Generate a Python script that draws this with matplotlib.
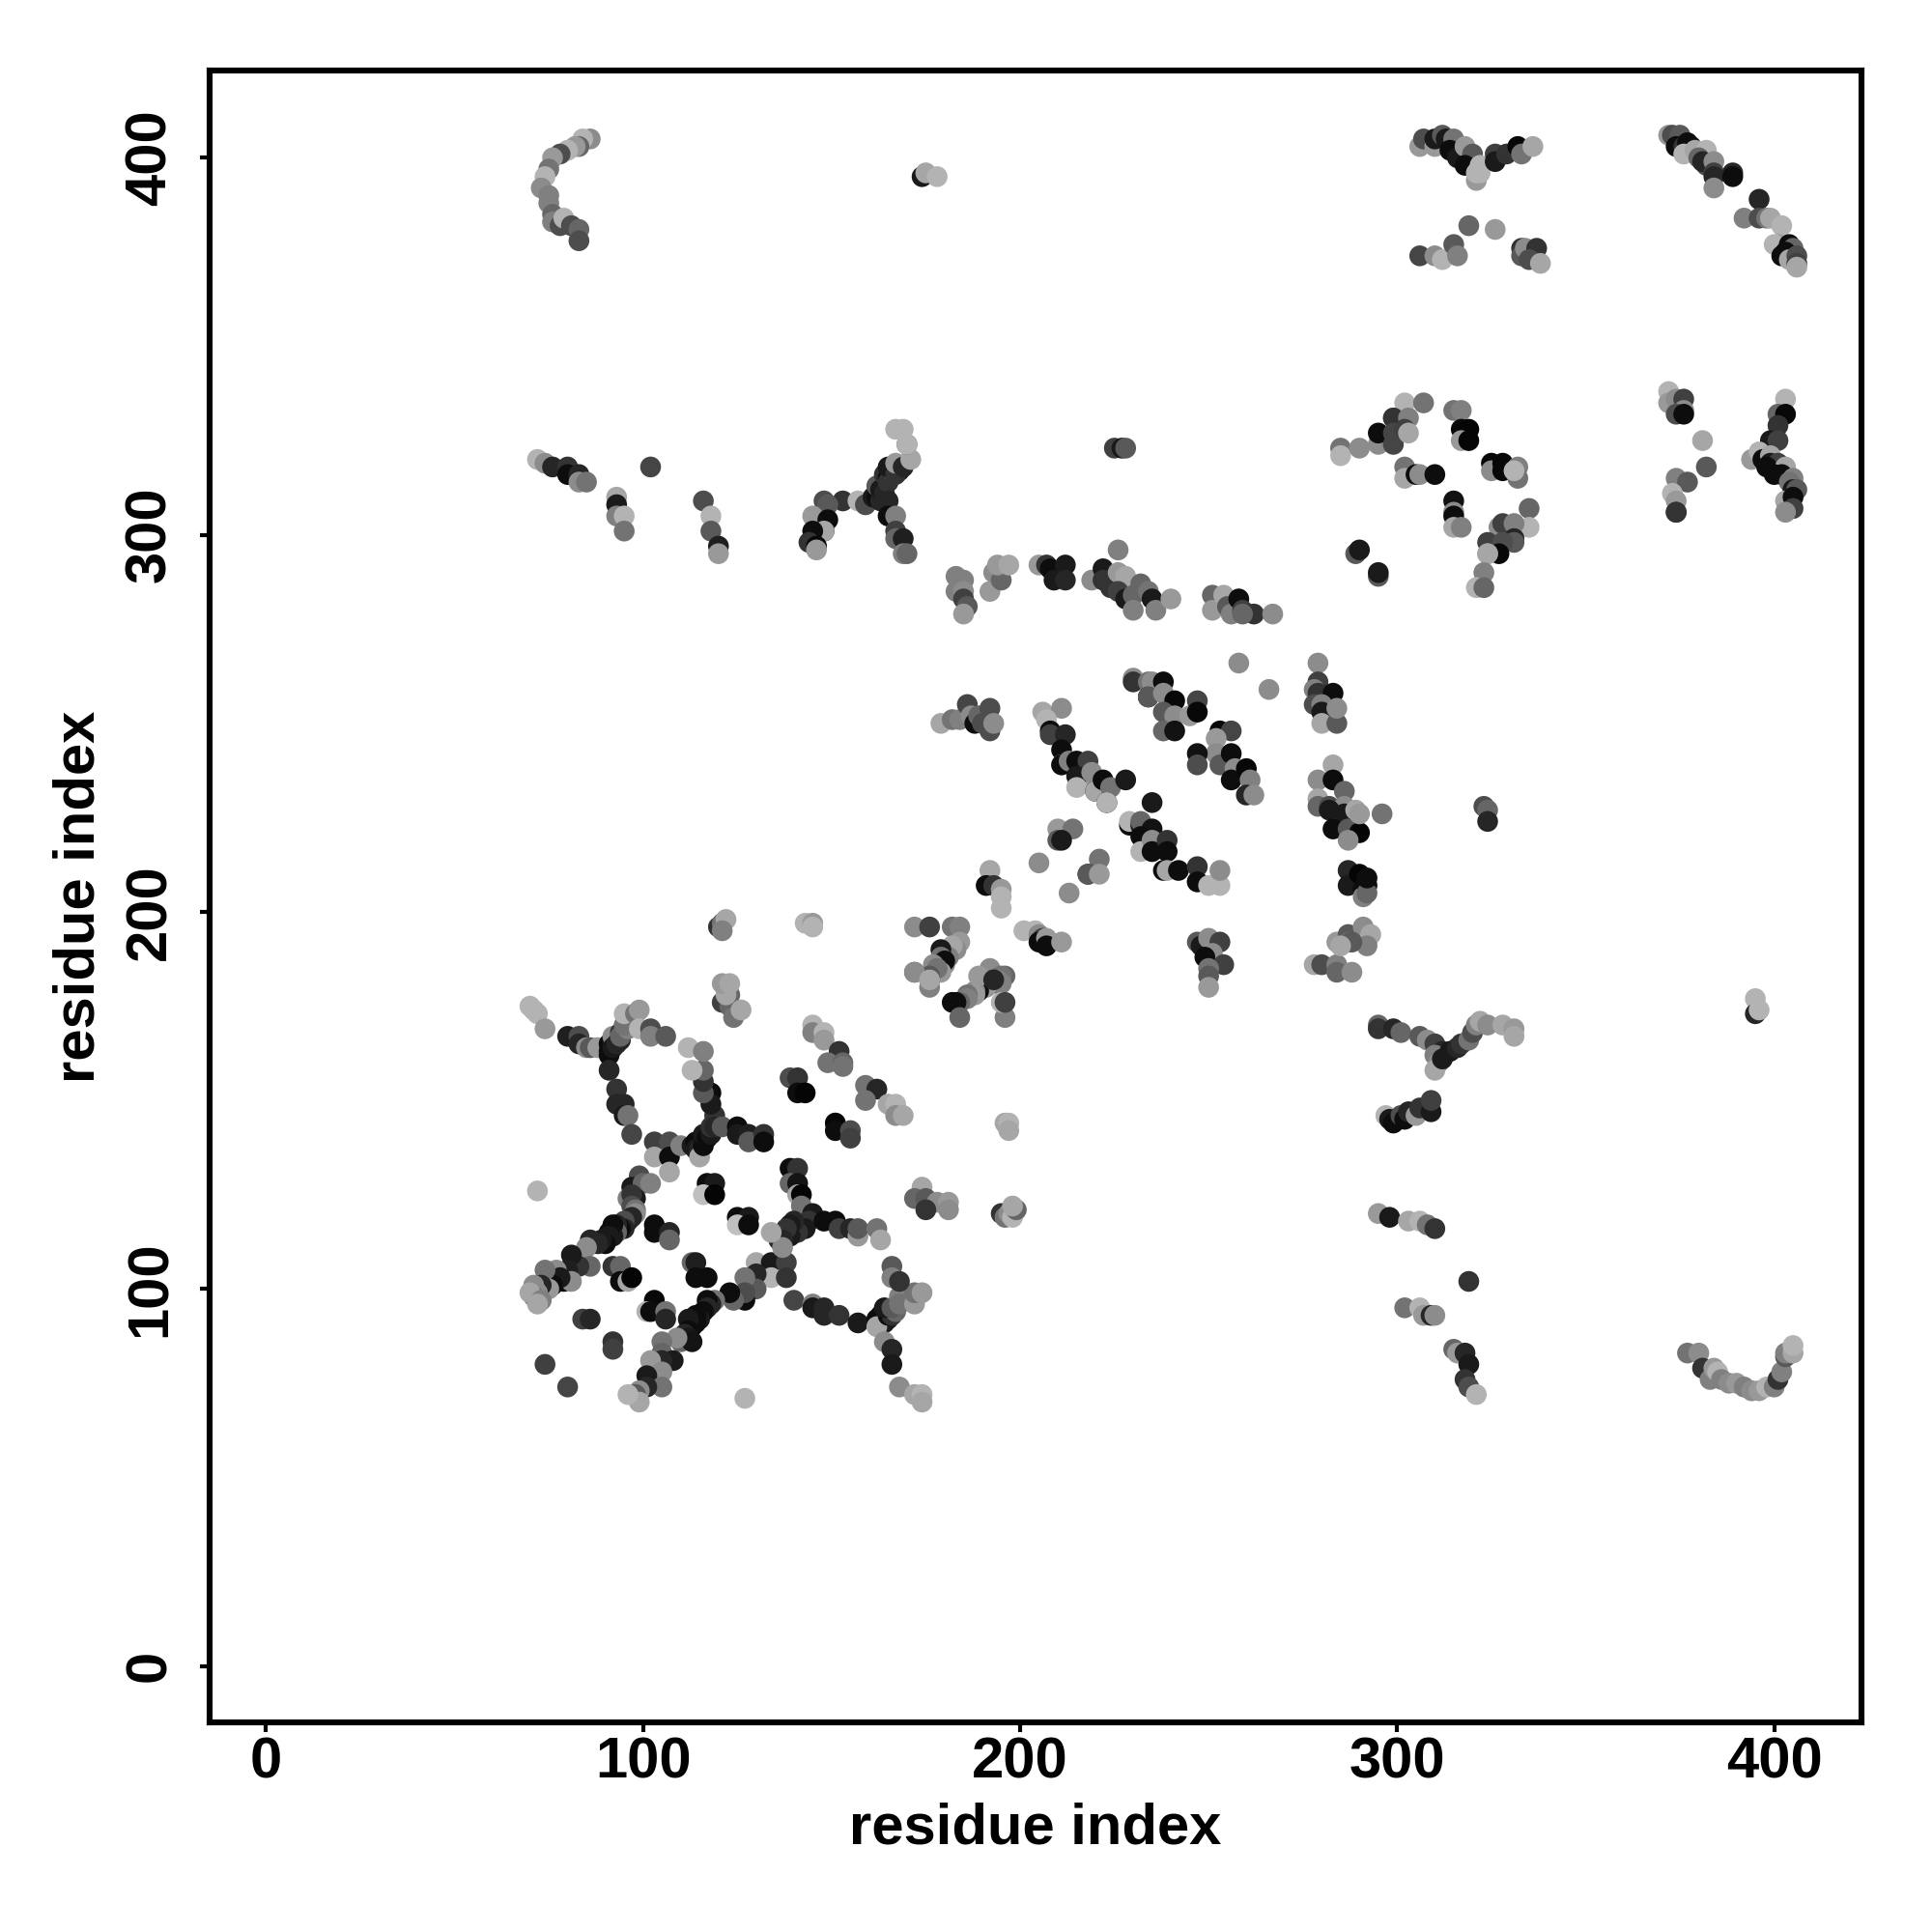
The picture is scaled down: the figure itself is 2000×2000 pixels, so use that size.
import matplotlib
matplotlib.use("Agg")
import matplotlib.pyplot as plt

# contacts: (residue i, residue j, grey level)
lower_left_a = [(70,175,.7),(71,174,.7),(72,173,.7),(74,169,.6),(80,167,.12),(83,167,.3),(83,165,.15),(85,164,.55),(86,164,.35),(88,164,.6),(91,163,.05),(91,165,.05),(92,166,.1),(92,167,.55),(94,168,.2),(94,166,.15),(91,162,.05),(92,164,.1),(93,165,.15),(94,167,.4),(96,169,.5),(97,171,.55),(95,170,.45),(95,173,.7),(98,173,.45),(99,174,.6),(99,169,.7),(102,169,.3),(102,167,.5),(106,167,.35),(91,158,.15),
(93,153,.2),(93,149,.15),(95,149,.15),(95,146,.1),(96,146,.45),(97,141,.27),
(103,139,.25),(107,139,.3),(103,135,.65),(107,135,.05),(107,131,.65),(110,138,.5),(113,138,.1),(114,139,.05),(114,137,.1),(115,137,.15),(115,135,.65),(116,138,.05),(116,141,.1),(117,140,.05),(118,141,.1),(118,143,.2),(119,146,.2),(119,143,.15),(121,143,.35),(125,143,.05),(125,141,.1),(128,141,.12),(128,139,.35),(132,141,.2),(132,139,.05),
(118,152,.05),(118,149,.1),(116,152,.35),(116,155,.2),(116,158,.4),(113,158,.7),(112,164,.7),(116,163,.5)]
lower_left_b = [(99,130,.3),(97,127,.1),(100,128,.4),(102,128,.5),(96,124,.5),(98,124,.1),(97,125,.2),(97,122,.3),(98,121,.45),(98,120,.55),(97,119,.15),(96,118,.15),(95,118,.3),(95,116,.15),(94,116,.05),(93,117,.15),(93,115,.4),(92,117,.05),(92,114,.1),(91,115,.05),(91,114,.1),(90,112,.05),(89,113,.1),(88,112,.15),(86,113,.15),(85,111,.55),(86,106,.4),(83,106,.2),(81,109,.1),(80,105,.12),(79,102,.05),(81,102,.55),(77,105,.55),(78,103,.1),(76,101,.05),(74,105,.45),(75,100,.6),(73,101,.15),(71,101,.55),(72,99,.55),(71,98,.4),(70,99,.65),(73,97,.5),(72,96,.65),
(92,106,.2),(94,106,.4),(94,102,.05),(96,102,.65),(97,103,.02),(103,117,.05),(103,115,.05),(107,115,.15),(107,113,.4),(117,128,.05),(119,128,.1),(116,125,.75),(119,125,.02),(125,119,.05),(128,119,.1),(125,117,.75),(128,117,.05),(113,107,.4),(114,107,.12),(114,103,.05),(117,103,.05),(103,97,.03),(101,94,.7),(102,94,.05),(106,94,.45),(106,92,.15),(84,92,.25),(86,92,.15),(92,86,.2),(92,84,.25),(74,80,.25),(80,74,.27)]
lower_left_c = [(130,107,.65),(134,107,.1),(138,107,.25),(134,103,.7),(138,103,.2),(130,104,.15),(130,100,.35),(127,103,.45),(127,97,.05),(127,99,.3),(124,97,.4),(123,99,.05),(119,97,.45),(118,96,.15),(117,97,.05),(117,95,.15),(116,94,.05),(115,92,.1),(114,93,.05),(114,91,.05),(113,90,.05),(112,92,.1),(112,89,.05),(111,88,.15),(112,87,.1),(110,86,.4),(113,86,.08),(109,87,.55),(105,86,.45),(105,83,.4),(108,81,.1),(105,81,.15),(102,81,.6),(105,78,.55),(101,77,.1),(105,74,.45),(101,74,.15),(99,73,.55),(98,72,.35),(99,70,.65),(96,72,.7),
(140,97,.27),(145,96,.5),(145,95,.1),(148,95,.15),(148,93,.15),(152,93,.2),(157,91,.1),(162,92,.05),(163,93,.05),(164,91,.1),(165,92,.1),(162,90,.65),(165,93,.05),(166,93,.2),(167,94,.4),(164,95,.1),(166,95,.35),(168,98,.5),(168,96,.45),(172,96,.6),(172,99,.45),(174,99,.6),(166,106,.35),(166,103,.5),(168,102,.2),(164,86,.55),(166,84,.15),(166,80,.1),(168,74,.55),(172,72,.65),(174,72,.7),(174,70,.65),(127,71,.7)]
lower_left_d = [(145,170,.7),(145,168,.5),(148,168,.7),(148,166,.6),(152,163,.2),(149,160,.45),(153,160,.4),(153,159,.45),(139,156,.3),(141,156,.2),(141,152,.05),(143,152,.02),(159,154,.45),(162,153,.15),(159,150,.45),(165,149,.65),(167,149,.7),(167,146,.55),(169,146,.65),(151,144,.7),(151,144,.02),(151,142,.05),(155,142,.3),(155,140,.25),
(139,132,.05),(141,132,.2),(139,128,.4),(141,128,.08),(141,125,.65),(142,125,.02),(142,122,.45),(145,120,.1),(144,118,.2),(143,116,.1),(141,115,.2),(140,118,.15),(139,117,.1),(139,114,.1),(138,116,.2),(137,113,.15),(136,113,.15),(137,111,.55),(134,115,.65),(148,118,.05),(151,118,.05),(152,116,.25),(155,116,.15),(157,114,.6),(157,116,.35),(162,116,.45),(163,113,.65),
(174,127,.65),(172,124,.4),(175,124,.35),(178,123,.55),(175,121,.2),(181,123,.6),(181,121,.55),(123,178,.4),(121,176,.25),(123,175,.4),(124,172,.45),(126,174,.65),(122,178,.65),(121,181,.6),(123,181,.65),(72,126,.7),
(120,196,.2),(121,197,.45),(122,198,.65),(121,195,.5),(143,197,.7),(145,197,.6),(145,196,.7),(196,144,.65),(197,144,.7),(197,142,.65),(195,120,.2),(196,119,.45),(197,120,.55),(198,119,.7),(199,121,.4),(198,122,.65)]
centre_a = [(179,250,.65),(182,251,.45),(184,251,.5),(186,255,.27),(187,252,.55),(188,250,.05),(189,252,.4),(192,254,.3),(192,248,.3),(190,250,.3),(193,250,.55),
(230,262,.55),(230,261,.2),(234,261,.45),(235,261,.55),(238,261,.05),(234,257,.05),(234,257,.35),(238,258,.55),(241,256,.03),(238,253,.35),(241,252,.55),(245,252,.6),(247,256,.27),(247,253,.03),(238,248,.4),(241,248,.07),
(253,248,.03),(256,248,.27),(252,246,.6),(252,242,.55),(247,242,.07),(247,239,.3),(253,239,.35),(256,242,.05),(257,238,.55),(256,235,.05),(260,238,.03),(261,235,.5),(260,231,.15),(262,231,.55),(258,266,.55),(266,259,.55),
(279,266,.55),(279,261,.25),(278,259,.5),(279,258,.2),(283,258,.05),(278,255,.3),(280,255,.5),(280,253,.1),(280,250,.65),(284,250,.35),(284,254,.55)]
centre_b = [(283,239,.65),(279,235,.55),(283,235,.05),(286,232,.4),(279,230,.65),(279,228,.4),(282,228,.3),(286,228,.55),(282,227,.1),(286,226,.1),(289,227,.65),(283,222,.05),(287,222,.35),(290,221,.02),(287,219,.55),(290,226,.6),(296,226,.45),
(206,253,.65),(211,254,.55),(207,251,.7),(208,248,.05),(208,247,.25),(212,247,.15),(211,243,.05),(211,239,.7),(211,239,.05),(213,240,.5),(215,240,.05),(218,240,.25),(216,235,.6),(215,236,.1),(219,237,.55),(215,233,.7),(220,232,.05),(220,232,.65),(222,235,.05),(224,233,.45),(223,229,.05),(223,229,.7),(228,235,.1),(235,229,.1),
(229,223,.05),(229,224,.7),(232,223,.1),(232,224,.4),(235,222,.07),(232,220,.05),(232,216,.7),(235,219,.55),(235,216,.05),(239,219,.2),(239,216,.05),(238,211,.05),(239,211,.65),(242,211,.05),(247,212,.2),(247,208,.3),(247,208,.05),(250,207,.7),(253,207,.7),(253,211,.55),
(210,222,.6),(214,222,.45),(210,219,.35),(211,219,.1),(205,213,.55),(221,214,.45),(218,210,.1),(218,210,.35),(221,210,.6),(213,205,.55)]
centre_c = [(192,211,.65),(191,207,.05),(193,207,.2),(195,206,.6),(195,201,.7),(195,204,.7),
(172,196,.55),(176,196,.25),(182,196,.45),(184,196,.5),(184,192,.6),(183,190,.55),(182,191,.65),(181,188,.5),(179,190,.1),(179,188,.45),(180,186,.55),(180,187,.05),(179,184,.6),(177,186,.55),(178,185,.45),(176,183,.35),(176,182,.05),(172,184,.35),(172,184,.55),(176,180,.5),(176,182,.65),
(192,185,.55),(196,183,.4),(195,183,.45),(194,182,.5),(194,181,.4),(195,181,.5),(191,180,.6),(190,182,.65),(189,179,.05),(188,179,.55),(188,178,.6),(186,178,.45),(186,177,.5),(184,176,.4),(183,176,.05),(182,176,.05),(184,172,.4),(196,172,.5),(195,176,.7),(196,176,.25),(189,183,.6),(193,182,.15),
(247,192,.35),(248,191,.1),(250,193,.55),(253,192,.25),(251,189,.55),(254,186,.25),(249,188,.05),(250,185,.45),(250,183,.35),(250,180,.6),
(201,195,.7),(204,195,.7),(205,194,.55),(206,193,.25),(205,192,.05),(207,193,.6),(207,191,.05),(211,192,.6),
(284,192,.6),(287,194,.35),(287,192,.4),(291,196,.55),(292,192,.7),(278,186,.65),(280,186,.3),(284,186,.5),(284,184,.4),(288,184,.55),
(287,211,.15),(287,207,.1),(290,210,.02),(291,206,.05),(291,204,.5),(292,207,.05),(292,205,.4),(292,209,.05),(293,194,.65),(292,191,.5),(288,192,.35),(285,191,.65),(323,228,.3),(324,227,.4),(324,224,.15)]
row_300_left = [(72,320,.7),(74,319,.55),(76,318,.15),(80,318,.2),(80,316,.05),(83,316,.15),(83,314,.55),(85,314,.45),(93,310,.65),(93,308,.1),(93,305,.5),(95,305,.7),(95,301,.45),(102,318,.27),(116,309,.3),(118,305,.7),(118,301,.35),(120,297,.12),(120,295,.6),
(153,309,.2),(148,309,.3),(149,308,.35),(145,305,.6),(149,304,.05),(148,301,.07),(148,301,.65),(145,301,.05),(144,298,.2),(146,297,.03),(146,296,.6),
(157,309,.7),(159,308,.55),(159,308,.3),(161,310,.1),(162,310,.05),(163,309,.15),(162,313,.35),(163,312,.1),(164,311,.15),(164,316,.2),(165,315,.05),(165,314,.2),(166,317,.25),(165,318,.1),(168,317,.1),(167,316,.2),(167,319,.6),(169,318,.15),(171,320,.65),(170,324,.35),(170,324,.7),(167,328,.7),(169,328,.7),
(165,309,.15),(165,305,.05),(167,305,.5),(167,301,.25),(167,299,.4),(169,299,.12),(169,295,.5),(170,295,.4)]
row_285 = [(183,289,.5),(183,285,.5),(185,288,.5),(185,285,.55),(185,283,.25),(186,281,.35),(185,279,.6),(192,285,.6),(193,290,.55),(195,288,.4),(194,292,.6),(197,292,.65),(205,292,.6),(207,292,.2),(208,291,.05),(209,288,.1),(212,292,.1),(212,288,.15),
(219,288,.55),(222,291,.1),(222,288,.2),(224,286,.2),(226,296,.5),(226,290,.6),(228,289,.65),(226,285,.25),(228,283,.1),(230,284,.4),(230,280,.5),(232,287,.4),(234,285,.45),(235,283,.1),(236,280,.5),(240,283,.6),
(251,284,.4),(251,280,.6),(254,284,.65),(255,281,.35),(256,279,.5),(258,283,.05),(259,280,.25),(262,279,.2),(259,279,.4),(267,279,.55),(225,323,.25),(227,323,.1),(228,323,.35)]
row_300_right = [(285,323,.45),(285,321,.7),(290,323,.55),(302,335,.7),(307,335,.45),(295,324,.55),(299,331,.55),(299,331,.2),(303,331,.5),(295,327,.05),(299,327,.27),(299,324,.27),(302,328,.25),(303,327,.65),
(315,333,.45),(317,333,.5),(317,328,.03),(319,328,.02),(317,325,.6),(319,325,.02),(302,318,.45),(302,315,.65),(305,316,.05),(306,316,.55),(310,316,.05),
(325,319,.03),(325,317,.55),(328,319,.03),(328,317,.03),(332,318,.5),(332,315,.45),(331,317,.7),(315,309,.07),(315,306,.55),(315,305,.05),(315,302,.65),(317,302,.5),
(335,307,.4),(335,302,.7),(327,302,.55),(328,303,.25),(331,303,.5),(331,299,.15),(331,298,.35),(324,298,.25),(328,298,.3),(327,295,.03),(324,295,.55),(324,295,.65),(323,290,.5),(321,286,.7),(323,286,.4),
(289,295,.35),(290,296,.1),(295,289,.35),(295,290,.1)]
row_320_far = [(372,338,.7),(372,335,.6),(374,336,.55),(376,336,.25),(376,333,.55),(374,332,.3),(376,332,.05),(381,325,.65),(382,318,.35),(374,315,.5),(377,314,.35),(373,311,.7),(374,309,.6),(374,306,.25),(374,306,.2),
(403,336,.7),(401,332,.4),(403,332,.03),(401,329,.2),(399,325,.1),(401,325,.25),(394,320,.6),(396,322,.7),(397,320,.05),(399,321,.65),(399,319,.1),(401,319,.25),(398,318,.05),(403,318,.65),(402,316,.05),(400,316,.05),(405,315,.5),(404,314,.45),(405,312,.1),(406,312,.35),(403,309,.65),(405,310,.05),(405,307,.25),(403,306,.55)]
top_left = [(86,405,.55),(84,405,.7),(83,403,.4),(82,403,.6),(80,402,.7),(78,401,.3),(76,400,.6),(75,397,.45),(74,395,.7),(73,392,.55),(75,390,.5),(75,388,.5),(76,385,.4),(76,383,.5),(78,382,.3),(79,384,.7),(81,382,.3),(83,381,.4),(83,378,.3),(174,395,.1),(175,396,.65),(178,395,.7)]
top_mid = [(306,403,.6),(307,405,.3),(310,403,.6),(310,405,.1),(312,406,.35),(313,405,.1),(315,405,.45),(314,402,.05),(316,400,.1),(318,403,.6),(320,401,.35),(318,398,.05),(322,398,.7),(321,394,.6),(321,396,.7),(322,396,.7),(326,401,.25),(326,399,.1),(329,401,.2),(332,403,.03),(333,401,.45),(336,403,.65),
(306,374,.27),(310,374,.55),(312,373,.7),(315,377,.35),(316,374,.5),(319,382,.4),(326,381,.6),(333,376,.2),(333,374,.35),(334,376,.55),(337,376,.2),(335,373,.3),(338,372,.65)]
top_right = [(372,406,.6),(373,406,.3),(375,406,.35),(374,403,.05),(376,403,.2),(378,403,.05),(377,404,.05),(376,401,.7),(379,402,.65),(382,402,.7),(380,400,.4),(382,398,.3),(381,399,.15),(384,399,.55),(384,396,.25),(384,395,.15),(384,392,.55),(389,396,.15),(389,395,.05),
(396,389,.15),(392,384,.5),(396,384,.3),(398,384,.45),(399,384,.65),(402,382,.7),(401,377,.6),(400,377,.7),(404,377,.05),(405,376,.4),(403,375,.05),(402,374,.05),(404,373,.65),(406,374,.3),(406,372,.25),(406,371,.65)]
lower_right = [(295,170,.4),(295,169,.2),(299,169,.15),(301,168,.4),(306,167,.35),(308,166,.55),(310,165,.25),(312,163,.15),(310,162,.5),(311,160,.55),(310,158,.65),(312,161,.1),(314,163,.1),(316,164,.15),(317,165,.2),(319,166,.45),(320,168,.3),(321,170,.5),(322,171,.65),(324,170,.55),(328,170,.65),(331,169,.6),(331,167,.65),
(297,146,.7),(298,145,.1),(299,144,.05),(301,146,.3),(302,145,.05),(303,147,.15),(305,146,.6),(306,148,.2),(309,147,.1),(309,150,.25),
(295,120,.6),(298,119,.1),(303,118,.65),(306,118,.7),(308,117,.45),(310,116,.2),(302,95,.45),(306,95,.7),(307,93,.6),(309,93,.15),(310,93,.55),(319,102,.2),
(315,84,.4),(316,83,.6),(318,83,.15),(319,80,.1),(318,76,.2),(319,74,.3),(321,72,.7),
(377,83,.45),(380,83,.55),(381,79,.2),(383,76,.5),(384,79,.6),(385,78,.7),(386,76,.5),(388,75,.55),(390,75,.6),(392,74,.5),(394,73,.55),(396,73,.6),(398,74,.7),(400,74,.5),(401,76,.2),(402,78,.5),(403,82,.35),(403,83,.5),(405,83,.65),(405,85,.7),(395,177,.7),(395,173,.15),(396,174,.7)]

regions = [lower_left_a, lower_left_b, lower_left_c, lower_left_d, centre_a, centre_b, centre_c,
           row_300_left, row_285, row_300_right, row_320_far, top_left, top_mid, top_right, lower_right]
tick_values = [0, 100, 200, 300, 400]
axis_label = "residue index"

plt.rcParams["font.family"] = ["Liberation Sans", "DejaVu Sans"]
plt.rcParams["font.weight"] = "bold"

fig = plt.figure(figsize=(20, 20), dpi=100)
ax = fig.add_axes([0.1084, 0.1084, 0.8552, 0.8552])
for region in regions:
    i, j, g = zip(*region)
    ax.scatter(i, j, c=[str(v) for v in g], s=240, linewidths=0, zorder=3)

ax.set_xlim(-15, 423.2)
ax.set_ylim(-15, 423.2)
ax.set_xticks(tick_values)
ax.set_yticks(tick_values)
ax.tick_params(axis="x", length=7, width=3, labelsize=43, pad=3)
ax.tick_params(axis="y", length=7, width=3, labelsize=43, pad=17)
for lab in ax.get_yticklabels():
    lab.set_rotation(90)
    lab.set_va("center")
for s in ax.spines.values():
    s.set_linewidth(4.4)
ax.set_xlabel(axis_label, fontsize=43, fontweight="bold", labelpad=10)
ax.set_ylabel(axis_label, fontsize=43, fontweight="bold", labelpad=14)
fig.savefig("out.png", dpi=100, facecolor="white")
